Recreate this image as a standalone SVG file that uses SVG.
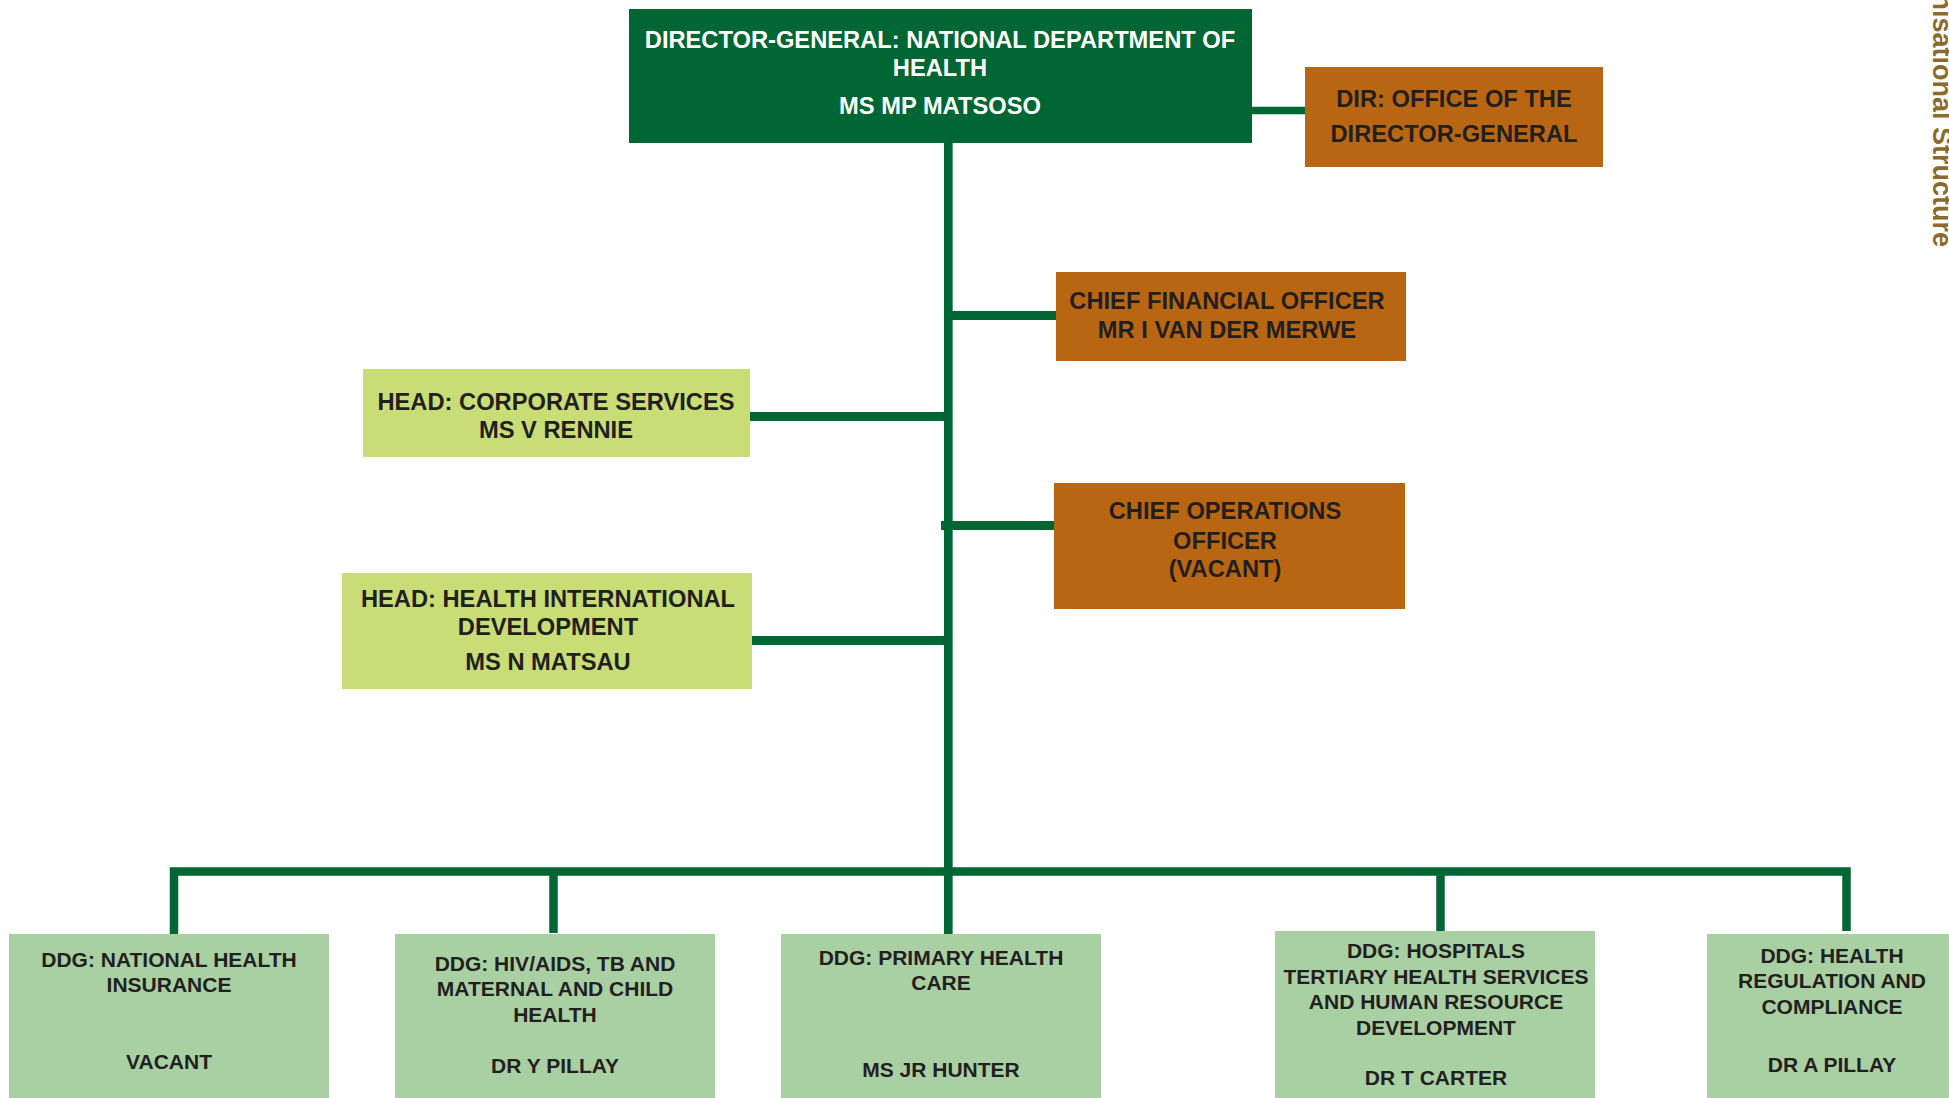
<svg xmlns="http://www.w3.org/2000/svg" width="1949" height="1098" viewBox="0 0 1949 1098">
<style>
.t{font-family:"Liberation Sans",Arial,sans-serif;font-weight:bold;text-anchor:middle;fill:#231F20}
.m{font-size:23.7px}
.s{font-size:21px}
.w{fill:#FFFFFF}
.dg{fill:#006633}
.or{fill:#B96613}
.yg{fill:#C8DD75}
.lg{fill:#A9D0A3}
.ln{stroke:#006633;fill:none;stroke-linejoin:miter;stroke-linecap:butt}
</style>
<rect width="1949" height="1098" fill="#FFFFFF"/>
<g id="connectors">
<line class="ln" x1="948.3" y1="143" x2="948.3" y2="934" stroke-width="8.7"/>
<line class="ln" x1="1252" y1="110.5" x2="1305" y2="110.5" stroke-width="7.6"/>
<line class="ln" x1="948" y1="315.5" x2="1056" y2="315.5" stroke-width="9"/>
<line class="ln" x1="750" y1="416.5" x2="948" y2="416.5" stroke-width="9"/>
<line class="ln" x1="941" y1="525.5" x2="1054" y2="525.5" stroke-width="9"/>
<line class="ln" x1="752" y1="640.5" x2="948" y2="640.5" stroke-width="9"/>
<path class="ln" d="M174,934 V871.5 H1846.5 V931" stroke-width="8.5"/>
<line class="ln" x1="553.5" y1="871.5" x2="553.5" y2="933" stroke-width="8.5"/>
<line class="ln" x1="1440.5" y1="871.5" x2="1440.5" y2="931" stroke-width="8.5"/>
</g>
<g id="dg">
<rect class="dg" x="629" y="9" width="623" height="134"/>
<text class="t m w" x="940" y="48">DIRECTOR-GENERAL: NATIONAL DEPARTMENT OF</text>
<text class="t m w" x="940" y="76">HEALTH</text>
<text class="t m w" x="940" y="114">MS MP MATSOSO</text>
</g>
<g id="dir-office">
<rect class="or" x="1305" y="67" width="298" height="100"/>
<text class="t m" x="1454" y="107">DIR: OFFICE OF THE</text>
<text class="t m" x="1454" y="142">DIRECTOR-GENERAL</text>
</g>
<g id="cfo">
<rect class="or" x="1056" y="272" width="350" height="89"/>
<text class="t m" x="1227" y="309">CHIEF FINANCIAL OFFICER</text>
<text class="t m" x="1227" y="338">MR I VAN DER MERWE</text>
</g>
<g id="corporate">
<rect class="yg" x="363" y="369" width="387" height="88"/>
<text class="t m" x="556" y="410">HEAD: CORPORATE SERVICES</text>
<text class="t m" x="556" y="438">MS V RENNIE</text>
</g>
<g id="coo">
<rect class="or" x="1054" y="483" width="351" height="126"/>
<text class="t m" x="1225" y="519">CHIEF OPERATIONS</text>
<text class="t m" x="1225" y="549">OFFICER</text>
<text class="t m" x="1225" y="577">(VACANT)</text>
</g>
<g id="hid">
<rect class="yg" x="342" y="573" width="410" height="116"/>
<text class="t m" x="548" y="607">HEAD: HEALTH INTERNATIONAL</text>
<text class="t m" x="548" y="635">DEVELOPMENT</text>
<text class="t m" x="548" y="670">MS N MATSAU</text>
</g>
<g id="ddg-nhi">
<rect class="lg" x="9" y="934" width="320" height="164"/>
<text class="t s" x="169" y="967">DDG: NATIONAL HEALTH</text>
<text class="t s" x="169" y="992">INSURANCE</text>
<text class="t s" x="169" y="1069">VACANT</text>
</g>
<g id="ddg-hiv">
<rect class="lg" x="395" y="934" width="320" height="164"/>
<text class="t s" x="555" y="971">DDG: HIV/AIDS, TB AND</text>
<text class="t s" x="555" y="996">MATERNAL AND CHILD</text>
<text class="t s" x="555" y="1022">HEALTH</text>
<text class="t s" x="555" y="1073">DR Y PILLAY</text>
</g>
<g id="ddg-phc">
<rect class="lg" x="781" y="934" width="320" height="164"/>
<text class="t s" x="941" y="965">DDG: PRIMARY HEALTH</text>
<text class="t s" x="941" y="990">CARE</text>
<text class="t s" x="941" y="1077">MS JR HUNTER</text>
</g>
<g id="ddg-hospitals">
<rect class="lg" x="1275" y="931" width="320" height="167"/>
<text class="t s" x="1436" y="958">DDG: HOSPITALS</text>
<text class="t s" x="1436" y="984">TERTIARY HEALTH SERVICES</text>
<text class="t s" x="1436" y="1009">AND HUMAN RESOURCE</text>
<text class="t s" x="1436" y="1035">DEVELOPMENT</text>
<text class="t s" x="1436" y="1085">DR T CARTER</text>
</g>
<g id="ddg-regulation">
<rect class="lg" x="1707" y="934" width="250" height="164"/>
<text class="t s" x="1832" y="963">DDG: HEALTH</text>
<text class="t s" x="1832" y="988">REGULATION AND</text>
<text class="t s" x="1832" y="1014">COMPLIANCE</text>
<text class="t s" x="1832" y="1072">DR A PILLAY</text>
</g>
<text transform="translate(1933,0) rotate(90)" x="247" y="0" font-family="Liberation Sans, Arial, sans-serif" font-weight="bold" font-size="27" fill="#8B6B2D" text-anchor="end">Organisational Structure</text>
</svg>
